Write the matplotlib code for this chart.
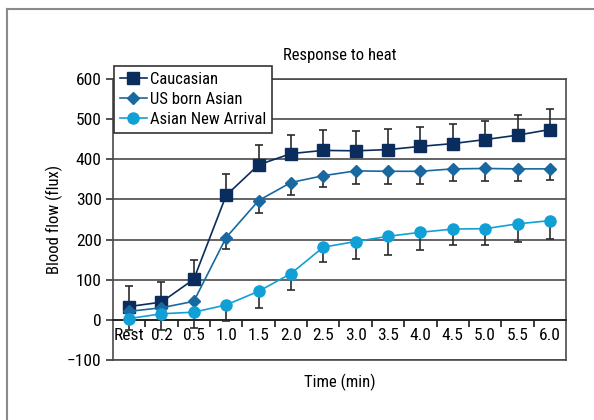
import matplotlib
matplotlib.use("Agg")
import matplotlib.pyplot as plt
from matplotlib.lines import Line2D
from matplotlib import font_manager
import numpy as np

# prefer a condensed sans face when one is installed
installed = {f.name for f in font_manager.fontManager.ttflist}
narrow = [n for n in ["Liberation Sans Narrow", "DejaVu Sans Condensed", "Roboto Condensed",
                      "Open Sans Condensed", "Noto Sans Condensed"] if n in installed]
plt.rcParams['font.family'] = narrow + ['DejaVu Sans']

# time points
times = ["Rest", "0.2", "0.5", "1.0", "1.5", "2.0", "2.5", "3.0", "3.5", "4.0", "4.5", "5.0", "5.5", "6.0"]

# mean blood flow (flux) and error per group
caucasian = [33, 44, 101, 310, 386, 414, 422, 421, 424, 432, 439, 449, 460, 474]
caucasian_err = [50, 49, 49, 53, 50, 47, 52, 50, 52, 49, 49, 46, 51, 50]
us_born = [21, 30, 46, 205, 297, 342, 359, 371, 370, 370, 376, 377, 376, 376]
us_born_err = [25, 25, 25, 28, 31, 30, 29, 32, 31, 31, 30, 31, 30, 27]
new_arrival = [3, 15, 19, 37, 71, 115, 181, 195, 208, 218, 226, 227, 239, 247]
new_arrival_err = [28, 40, 39, 39, 42, 40, 38, 44, 47, 43, 40, 41, 46, 45]

c_cau = "#0b2d5e"
c_us = "#17699f"
c_na = "#11a0d6"
err_col = "#2b2b2b"
fs_tick = 12.5
fs = 12

fig = plt.figure(figsize=(5.94, 4.2), dpi=100)
ax = fig.add_axes([0.190, 0.143, 0.763, 0.669])

x = np.arange(len(times))
zeros = [0] * len(times)

# error bars: Caucasian upward, the other two downward
for vals, lo, hi in [(caucasian, zeros, caucasian_err),
                     (us_born, us_born_err, zeros),
                     (new_arrival, new_arrival_err, zeros)]:
    ax.errorbar(x, vals, yerr=[lo, hi], fmt="none", ecolor=err_col,
                elinewidth=1.2, capsize=3, capthick=1.2, zorder=3)

ax.plot(x, caucasian, "-s", color=c_cau, ms=8, lw=1.2, label="Caucasian", zorder=4)
ax.plot(x, us_born, "-D", color=c_us, ms=6, lw=1.2, label="US born Asian", zorder=4)
ax.plot(x, new_arrival, "-o", color=c_na, ms=8, lw=1.2, label="Asian New Arrival", zorder=4)

ax.set_xlim(-0.5, len(times) - 0.5)
ax.set_ylim(-100, 600)
ax.set_yticks(range(-100, 601, 100))
ax.set_yticklabels(["\u2212100"] + [str(v) for v in range(0, 601, 100)])
ax.grid(axis="y", color="#4a4a4a", lw=1.2, zorder=1)
ax.axhline(-100, color="#4a4a4a", lw=1.2, clip_on=False, zorder=1)

# x axis sits on zero, labels below it, tick marks between categories
ax.spines["bottom"].set_position(("data", 0))
ax.spines["bottom"].set_color("#1a1a1a")
ax.spines["bottom"].set_linewidth(1.2)
ax.set_xticks(x)
ax.set_xticklabels(times)
ax.set_xticks(x[:-1] + 0.5, minor=True)
ax.tick_params(axis="x", which="major", length=0, pad=6, labelsize=fs_tick)
ax.tick_params(axis="x", which="minor", length=5, width=1.2, color="#1a1a1a")
ax.tick_params(axis="y", length=5, width=1.2, color="#333333", labelsize=fs_tick, pad=3)
for s in ["left", "right", "top"]:
    ax.spines[s].set_color("#4a4a4a")
    ax.spines[s].set_linewidth(1.2)

ax.set_ylabel("Blood flow (flux)", fontsize=fs, labelpad=3)
fig.text(0.572, 0.09, "Time (min)", ha="center", va="center", fontsize=fs)
fig.text(0.572, 0.868, "Response to heat", ha="center", va="center", fontsize=fs)

leg = ax.legend(loc="upper left", bbox_to_anchor=(0.192, 0.843), bbox_transform=fig.transFigure,
                fontsize=fs, frameon=True, fancybox=False, handlelength=1.6,
                handletextpad=0.2, borderpad=0.35, labelspacing=0.3, borderaxespad=0)
leg.get_frame().set_edgecolor("#333333")
leg.get_frame().set_linewidth(1.2)
leg.get_frame().set_alpha(1)
leg.set_zorder(5)

# outer frame (top and left edges)
fig.add_artist(Line2D([7 / 594, 7 / 594], [0, 1 - 9 / 420], transform=fig.transFigure,
                      color="#8a8a8a", lw=1.5))
fig.add_artist(Line2D([7 / 594, 1], [1 - 9 / 420, 1 - 9 / 420], transform=fig.transFigure,
                      color="#8a8a8a", lw=1.5))

fig.savefig("out.png", dpi=100)
